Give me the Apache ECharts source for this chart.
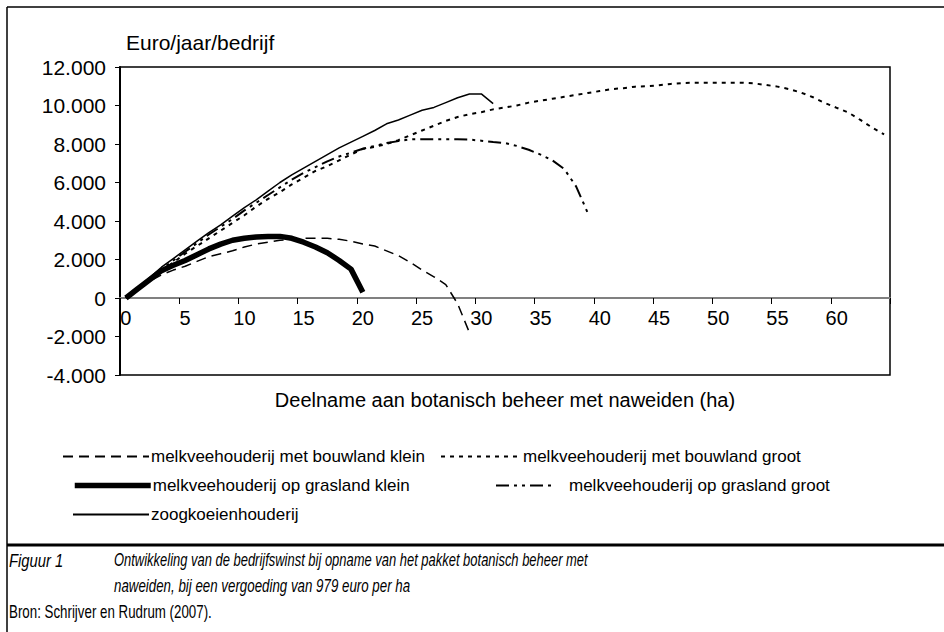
<!DOCTYPE html>
<html>
<head>
<meta charset="utf-8">
<script src="https://cdn.jsdelivr.net/npm/echarts@6/dist/echarts.min.js"></script>
<style>
  html, body { margin: 0; padding: 0; background: #fff; }
  #chart { width: 944px; height: 632px; }
</style>
</head>
<body>
<div id="chart"></div>
<script>
// hectares (categorie-as 0..64)
var hectares = ['0','1','2','3','4','5','6','7','8','9','10','11','12','13','14','15','16','17','18','19',
  '20','21','22','23','24','25','26','27','28','29','30','31','32','33','34','35','36','37','38','39',
  '40','41','42','43','44','45','46','47','48','49','50','51','52','53','54','55','56','57','58','59',
  '60','61','62','63','64'];

var yTicks = [-4000, -2000, 0, 2000, 4000, 6000, 8000, 10000, 12000];

// bedrijfswinst per bedrijfstype (euro/jaar/bedrijf)
var bouwlandKlein = [0, 430, 870, 1200, 1450, 1650, 1900, 2150, 2300, 2450, 2650, 2800, 2900, 3000, 3050,
  3100, 3100, 3100, 3050, 2950, 2800, 2700, 2450, 2200, 1850, 1450, 1100, 700, -300, -1800];

var bouwlandGroot = [0, 480, 950, 1400, 1850, 2300, 2700, 3100, 3500, 3900, 4300, 4750, 5150, 5500, 5900,
  6250, 6600, 6850, 7150, 7450, 7750, 7850, 8000, 8200, 8450, 8700, 8950, 9200, 9400, 9550,
  9650, 9800, 9900, 10000, 10150, 10250, 10350, 10450, 10550, 10650, 10750, 10850, 10900, 10980, 11000,
  11050, 11120, 11170, 11180, 11180, 11180, 11180, 11180, 11150, 11070, 10980, 10850, 10670, 10430, 10130,
  9880, 9630, 9250, 8850, 8500];

var graslandKlein = [0, 480, 950, 1420, 1700, 1950, 2250, 2550, 2800, 3000, 3100, 3170, 3200, 3200, 3100,
  2900, 2650, 2350, 1950, 1500, 300];

var graslandGroot = [0, 500, 1000, 1500, 1950, 2400, 2850, 3300, 3700, 4100, 4550, 4950, 5350, 5750, 6150,
  6500, 6800, 7100, 7350, 7550, 7750, 7900, 8050, 8150, 8240, 8250, 8250, 8250, 8250, 8230,
  8170, 8100, 8050, 7900, 7700, 7450, 7150, 6700, 5800, 4400];

var zoogkoeien = [0, 530, 1060, 1600, 2050, 2500, 2950, 3400, 3800, 4250, 4700, 5100, 5550, 6000, 6400,
  6750, 7100, 7450, 7800, 8100, 8400, 8700, 9050, 9250, 9500, 9750, 9900, 10150, 10400, 10600,
  10600, 10100];

var names = [
  'melkveehouderij met bouwland klein',
  'melkveehouderij met bouwland groot',
  'melkveehouderij op grasland klein',
  'melkveehouderij op grasland groot',
  'zoogkoeienhouderij'
];

var font = 'Liberation Sans, Arial, sans-serif';

function fmt(v) {
  var s = String(Math.abs(v));
  s = s.replace(/\B(?=(\d{3})+(?!\d))/g, '.');
  return (v < 0 ? '-' : '') + s;
}

function lineSeries(name, data, width, dash) {
  return {
    name: name,
    type: 'line',
    data: data,
    symbol: 'none',
    smooth: false,
    animation: false,
    itemStyle: { color: '#000' },
    lineStyle: { color: '#000', width: width, type: dash, cap: 'butt' }
  };
}

function legendAt(name, left, top, w, lw, gap) {
  return {
    data: [name],
    left: left,
    top: top,
    itemWidth: w,
    itemHeight: 14,
    padding: 0,
    selectedMode: false,
    itemStyle: { opacity: 0 },
    lineStyle: lw ? { width: lw } : {},
    textStyle: { fontFamily: font, fontSize: 17, color: '#000', padding: [0, 0, 0, gap] }
  };
}

// ondergrens -4000 -> nul-lijn ligt 4/16 van de grid-hoogte boven de onderkant
var gridTop = 67, gridBottom = 257, gridH = 632 - gridTop - gridBottom;
var zeroOffset = -gridH * (0 - yTicks[0]) / (yTicks[yTicks.length - 1] - yTicks[0]);

var chart = echarts.init(document.getElementById('chart'), null, { renderer: 'svg' });

chart.setOption({
  backgroundColor: '#fff',
  animation: false,
  textStyle: { fontFamily: font },
  grid: {
    left: 120, top: gridTop, right: 54, bottom: gridBottom,
    show: true, borderColor: '#000', borderWidth: 1.5, backgroundColor: 'transparent'
  },
  legend: [
    legendAt(names[0], 62, 448, 86, 0, -3),
    legendAt(names[1], 440, 448, 80, 0, -3),
    legendAt(names[2], 72, 477, 76, 5.5, -3),
    legendAt(names[3], 495, 477, 60, 0, 8),
    legendAt(names[4], 72, 506, 76, 0, -3)
  ],
  xAxis: {
    type: 'category',
    data: hectares,
    boundaryGap: true,
    offset: zeroOffset,
    name: 'Deelname aan botanisch beheer met naweiden (ha)',
    nameLocation: 'middle',
    nameGap: 92,
    nameTextStyle: { fontFamily: font, fontSize: 20, color: '#000' },
    axisLine: { onZero: false, lineStyle: { color: '#808080', width: 2 } },
    axisTick: { show: true, interval: 4, length: 6, lineStyle: { color: '#000', width: 1 } },
    axisLabel: { interval: 4, margin: 10, fontFamily: font, fontSize: 20, color: '#000' },
    splitLine: { show: false }
  },
  yAxis: {
    type: 'value',
    min: yTicks[0],
    max: yTicks[yTicks.length - 1],
    interval: 2000,
    name: 'Euro/jaar/bedrijf',
    nameLocation: 'end',
    nameGap: 14,
    nameTextStyle: { fontFamily: font, fontSize: 21, color: '#000', align: 'left', padding: [0, 0, 0, 6] },
    axisLine: { show: true, lineStyle: { color: '#000', width: 2 } },
    axisTick: { show: true, length: 5, lineStyle: { color: '#000' } },
    axisLabel: { margin: 14, fontFamily: font, fontSize: 21, color: '#000', formatter: fmt },
    splitLine: { show: false }
  },
  series: [
    lineSeries(names[0], bouwlandKlein, 1.5, [10, 6]),
    lineSeries(names[1], bouwlandGroot, 2, [4, 5]),
    lineSeries(names[2], graslandKlein, 5.5, 'solid'),
    lineSeries(names[3], graslandGroot, 2, [13, 5, 3, 5, 3, 5]),
    lineSeries(names[4], zoogkoeien, 1.5, 'solid')
  ],
  graphic: [
    { type: 'line', shape: { x1: 7, y1: 7, x2: 944, y2: 7 }, style: { stroke: '#000', lineWidth: 1.5 } },
    { type: 'line', shape: { x1: 7, y1: 7, x2: 7, y2: 632 }, style: { stroke: '#000', lineWidth: 1.5 } },
    { type: 'line', shape: { x1: 7, y1: 545, x2: 944, y2: 545 }, style: { stroke: '#000', lineWidth: 3 } },
    { type: 'text', x: 9, y: 551, scaleX: 0.78, style: { text: 'Figuur 1', font: 'italic 19px ' + font, fill: '#000' } },
    { type: 'text', x: 114, y: 551, scaleX: 0.72, style: { text: 'Ontwikkeling van de bedrijfswinst bij opname van het pakket botanisch beheer met', font: 'italic 18px ' + font, fill: '#000' } },
    { type: 'text', x: 114, y: 577, scaleX: 0.74, style: { text: 'naweiden, bij een vergoeding van 979 euro per ha', font: 'italic 18px ' + font, fill: '#000' } },
    { type: 'text', x: 9, y: 603, scaleX: 0.74, style: { text: 'Bron: Schrijver en Rudrum (2007).', font: '18px ' + font, fill: '#000' } }
  ]
});
</script>
</body>
</html>
